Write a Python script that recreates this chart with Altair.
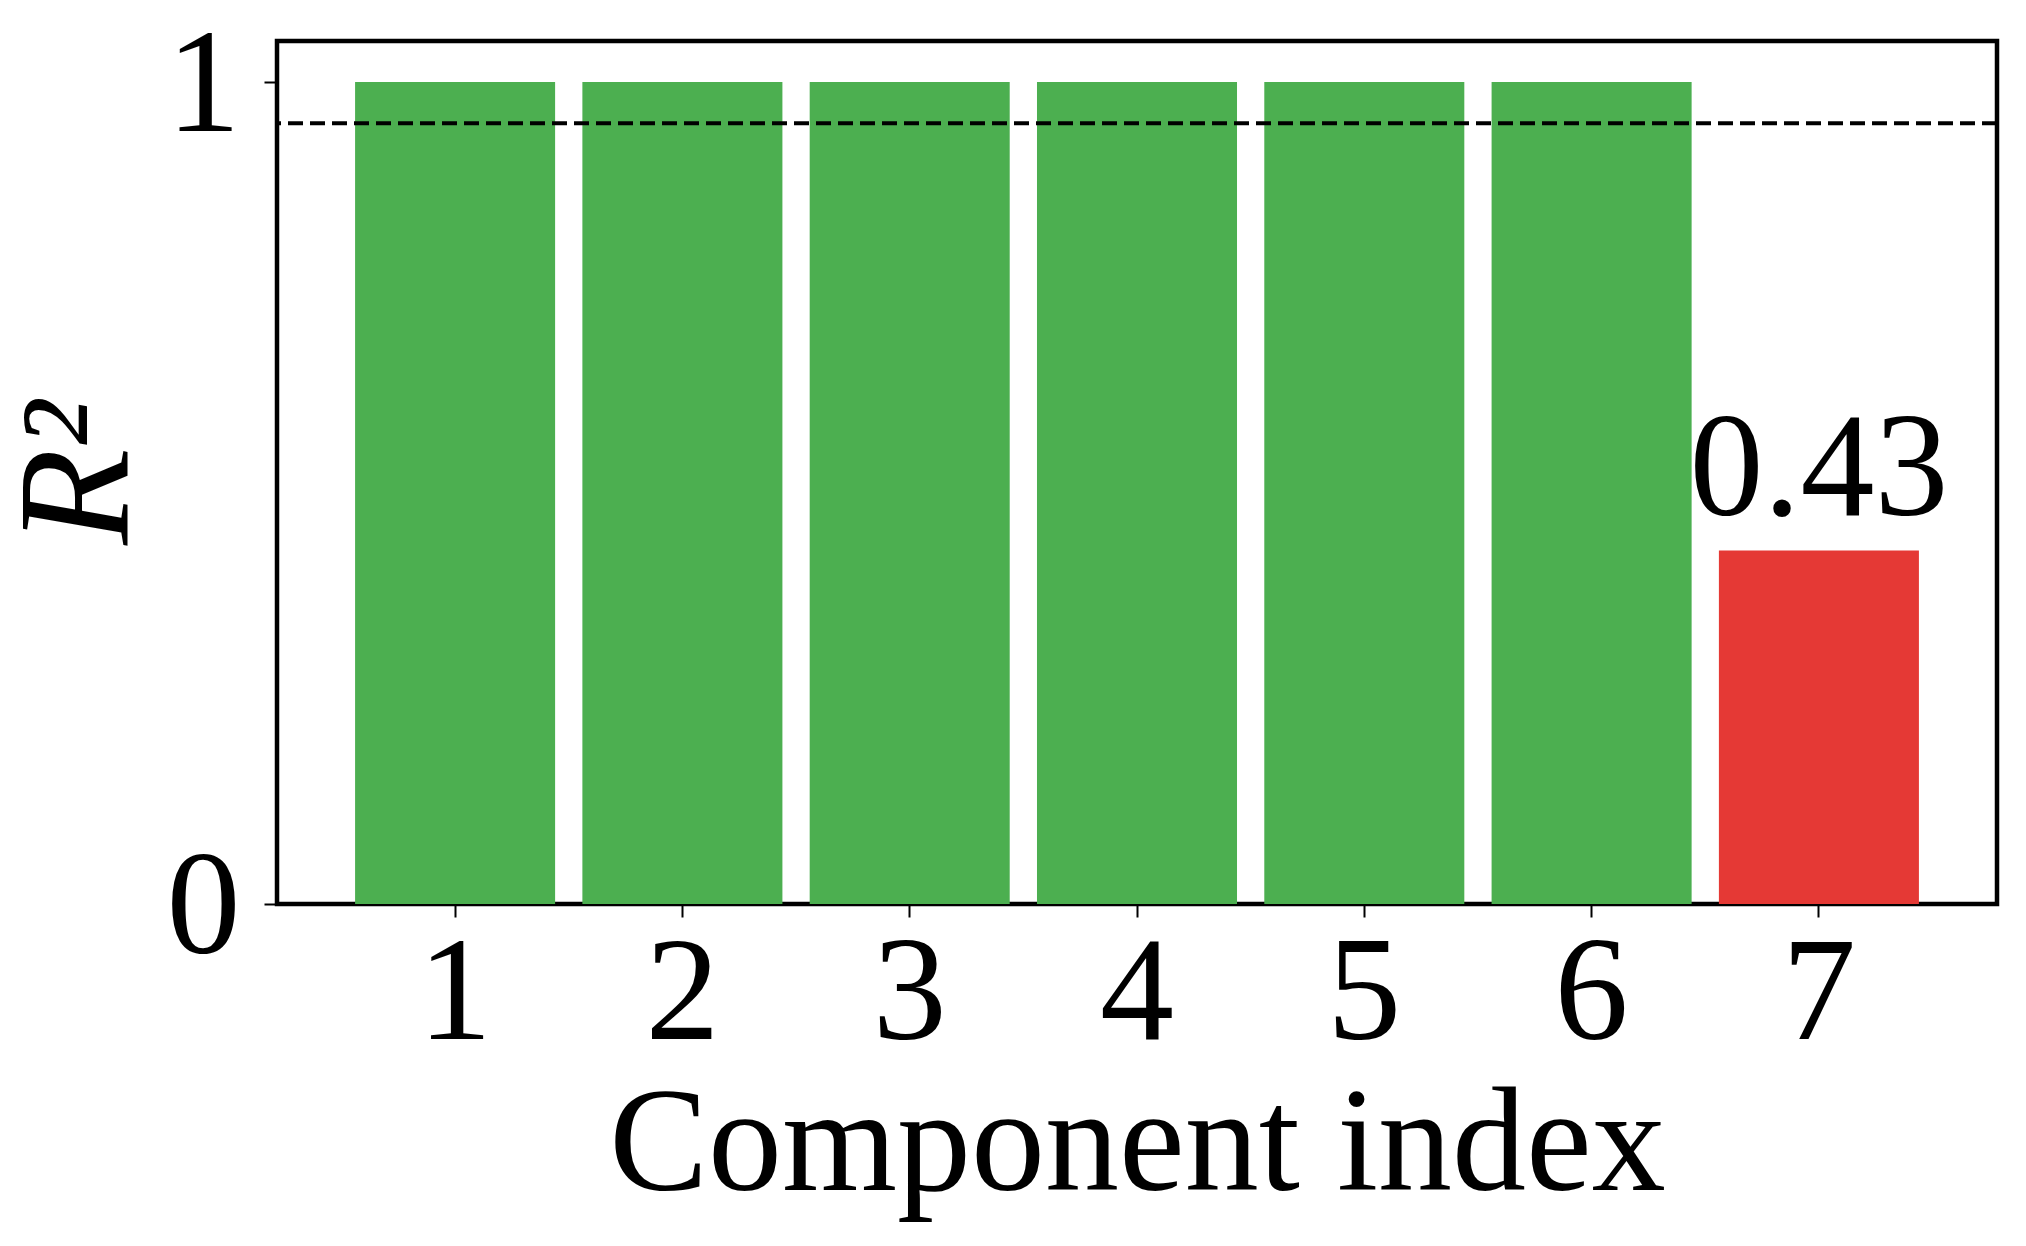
import altair as alt
import pandas as pd

components = [1, 2, 3, 4, 5, 6, 7]
r2_values = [1.0, 1.0, 1.0, 1.0, 1.0, 1.0, 0.43]
status = ["ok", "ok", "ok", "ok", "ok", "ok", "low"]
labels = ["", "", "", "", "", "", "0.43"]
threshold = [0.95]

GREEN = "#4CAF50"
RED = "#E53935"
FONT = "Liberation Serif"
FS = 148

df = pd.DataFrame({"component": components, "r2": r2_values, "status": status, "label": labels})
df_thr = pd.DataFrame({"r2": threshold})

x_enc = alt.X(
    "component:O",
    scale=alt.Scale(paddingInner=0.12, paddingOuter=0.3435),
    axis=alt.Axis(
        title="Component index",
        labelAngle=0,
        labelPadding=4,
        titlePadding=4,
        titleFontStyle="normal",
    ),
)
y_enc = alt.Y(
    "r2:Q",
    scale=alt.Scale(domain=[0, 1.05], nice=False, zero=True),
    axis=alt.Axis(
        title="R²",
        values=[0, 1],
        format="d",
        labelPadding=24,
        labelOffset=4,
        titlePadding=6,
        titleFontSize=158,
        titleFontStyle="italic",
    ),
)

bars = alt.Chart(df).mark_bar().encode(
    x=x_enc,
    y=y_enc,
    color=alt.Color("status:N", scale=alt.Scale(domain=["ok", "low"], range=[GREEN, RED]), legend=None),
)

rule = alt.Chart(df_thr).mark_rule(color="black", strokeWidth=4, strokeDash=[15, 7]).encode(y=y_enc)

text = alt.Chart(df).transform_filter("datum.label != ''").mark_text(
    font=FONT, fontSize=FS, baseline="alphabetic", dy=-36, color="black"
).encode(x=x_enc, y=y_enc, text="label:N")

chart = (
    alt.layer(bars, rule, text)
    .properties(
        width=1720,
        height=863,
        autosize=alt.AutoSizeParams(type="none"),
        padding={"left": 269, "top": 33, "right": 15, "bottom": 320},
    )
    .configure_view(stroke="black", strokeWidth=4.5)
    .configure_axis(
        domain=False,
        grid=False,
        ticks=True,
        tickColor="black",
        tickWidth=2,
        tickSize=13,
        labelFont=FONT,
        labelFontSize=FS,
        labelColor="black",
        titleFont=FONT,
        titleFontSize=FS,
        titleFontWeight="normal",
        titleColor="black",
    )
)

chart.save("out.html", embed_options={"renderer": "svg", "actions": False})
